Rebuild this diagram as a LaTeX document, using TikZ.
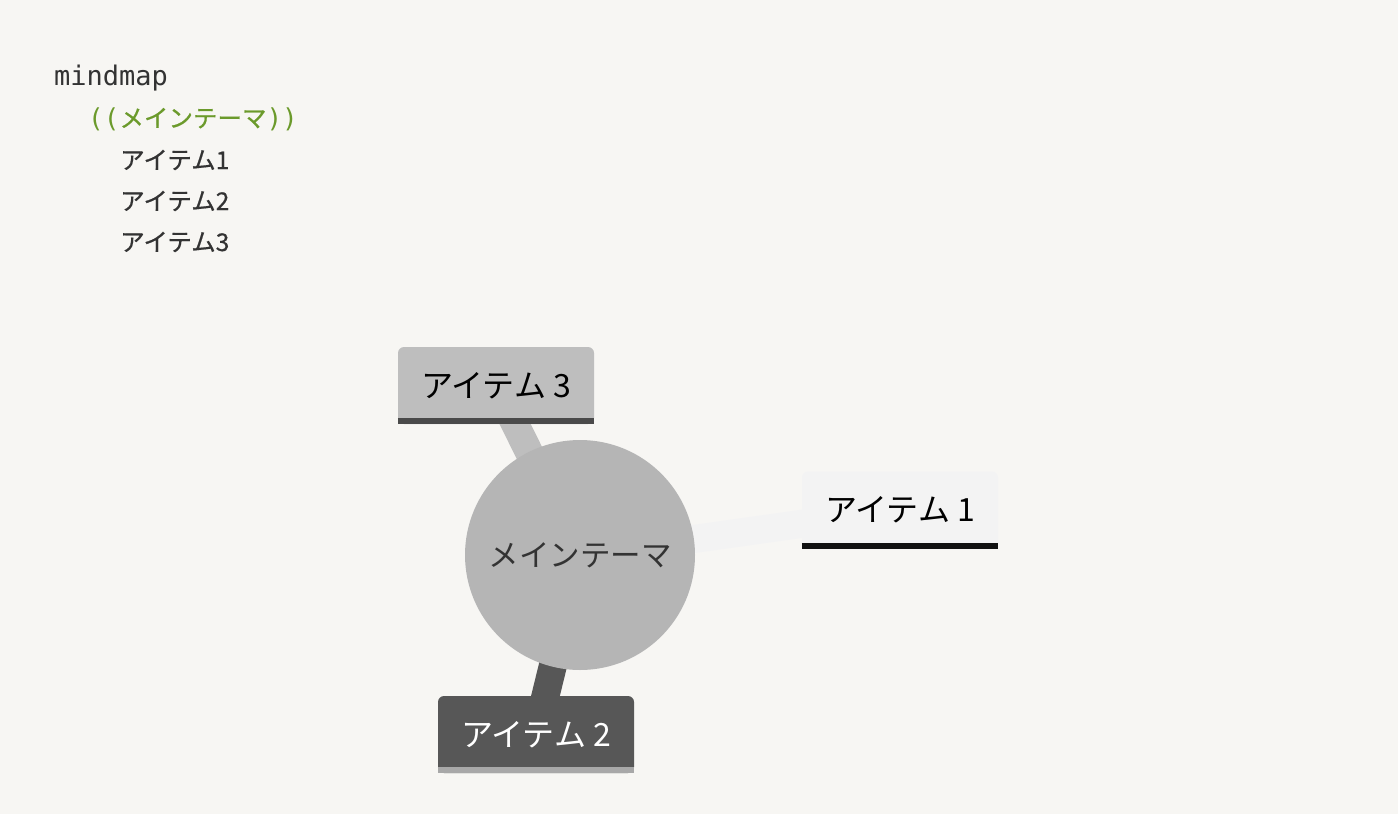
\documentclass[tikz,border=0pt]{standalone}
\usepackage{fontspec}
\newfontfamily\cjk{Noto Sans CJK JP}
\newfontfamily\cjkm[FakeBold=0.6]{Noto Sans CJK JP}
\newfontfamily\monof{DejaVu Sans Mono}
\definecolor{bgc}{HTML}{F7F6F3}
\definecolor{rootc}{HTML}{B5B5B5}
\definecolor{threec}{HTML}{BEBEBE}
\definecolor{threebar}{HTML}{4A4A4A}
\definecolor{onec}{HTML}{F3F3F3}
\definecolor{onebar}{HTML}{111111}
\definecolor{twoc}{HTML}{575757}
\definecolor{twobar}{HTML}{A8A8A8}
\definecolor{codec}{HTML}{333333}
\definecolor{greenc}{HTML}{6B9A2B}
\pgfdeclarelayer{edges}
\pgfdeclarelayer{backdrop}
\pgfsetlayers{backdrop,edges,main}
\tikzset{
  codeline/.style={anchor=west, inner sep=0pt, text=codec},
  codecjk/.style={font=\cjkm\fontsize{24.5}{28}\selectfont},
  itembox/.style={rectangle, rounded corners=6pt, minimum width=196pt, minimum height=77pt, inner sep=0pt, font=\cjk\fontsize{32}{34}\selectfont},
  link/.style={line width=28pt},
}
\begin{document}
\begin{tikzpicture}[x=1pt,y=-1pt]
\begin{pgfonlayer}{backdrop}
\fill[bgc] (0,0) rectangle (1398,814);
\end{pgfonlayer}
\useasboundingbox (0,0) rectangle (1398,814);
% code listing
\node[codeline, font=\monof\fontsize{27}{30}\selectfont] (c0) at (54,78) {mindmap};
\node[codeline, codecjk, text=greenc] (c1) at (88,119) {{\monof\fontsize{26}{28}\selectfont((}メインテーマ{\monof\fontsize{26}{28}\selectfont))}};
\node[codeline, codecjk] (c2) at (120,160) {アイテム1};
\node[codeline, codecjk] (c3) at (120,201) {アイテム2};
\node[codeline, codecjk] (c4) at (120,242) {アイテム3};
% mindmap
\node[circle, fill=rootc, minimum size=230pt, inner sep=0pt, text=codec, font=\cjk\fontsize{30.5}{34}\selectfont] (root) at (580,555) {メインテーマ};
\node[itembox, fill=threec, text=black] (i3) at (496,385.5) {アイテム\hspace{7pt}3};
\node[itembox, fill=onec, text=black] (i1) at (900,510) {アイテム\hspace{7pt}1};
\node[itembox, fill=twoc, text=white] (i2) at (536,734.5) {アイテム\hspace{7pt}2};
\draw[threebar, line width=6pt] ([yshift=3pt]i3.south west) -- ([yshift=3pt]i3.south east);
\draw[onebar, line width=6pt] ([yshift=3pt]i1.south west) -- ([yshift=3pt]i1.south east);
\draw[twobar, line width=6pt] ([yshift=3pt]i2.south west) -- ([yshift=3pt]i2.south east);
\begin{pgfonlayer}{edges}
\draw[link, threec] (root.center) -- (i3.center);
\draw[link, onec] (root.center) -- (i1.center);
\draw[link, twoc] (root.center) -- (i2.center);
\end{pgfonlayer}
\end{tikzpicture}
\end{document}
